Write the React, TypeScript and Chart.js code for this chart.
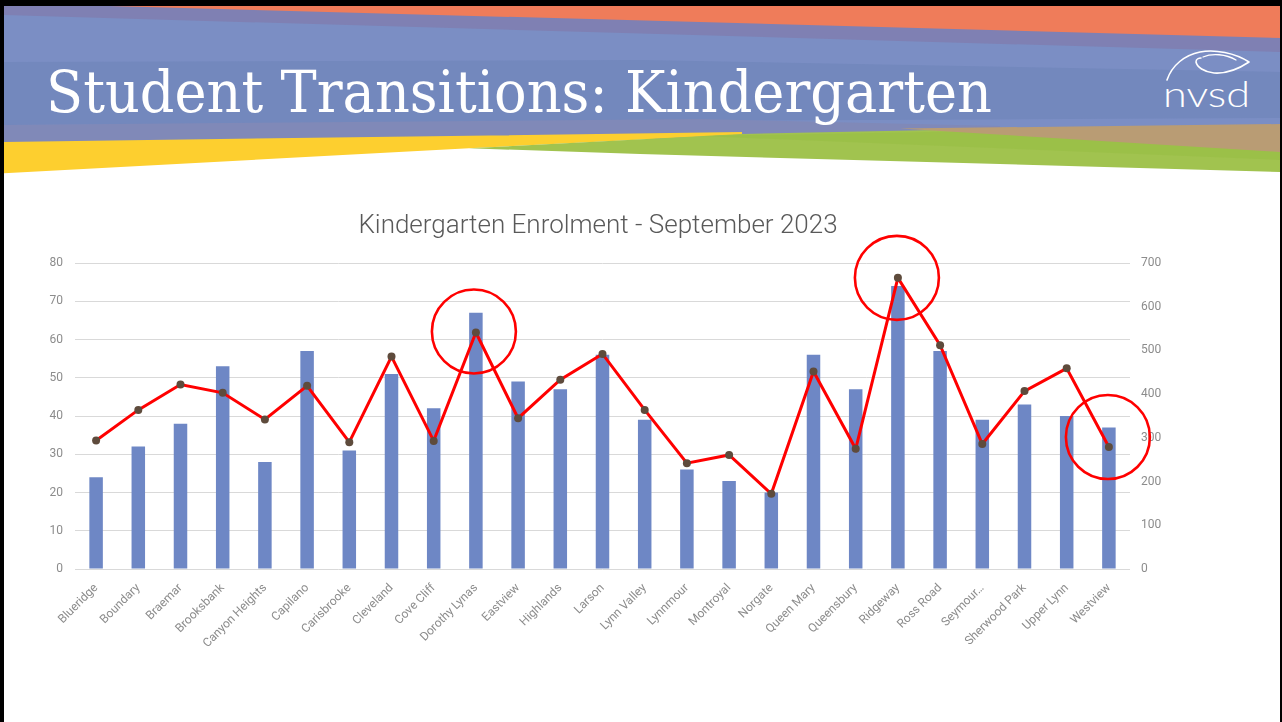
import React, { useEffect, useRef } from "react";
import { Chart, registerables } from "chart.js";

Chart.register(...registerables);

// ---- Data ----
const schools = [
  "Blueridge", "Boundary", "Braemar", "Brooksbank", "Canyon Heights", "Capilano",
  "Carisbrooke", "Cleveland", "Cove Cliff", "Dorothy Lynas", "Eastview", "Highlands",
  "Larson", "Lynn Valley", "Lynnmour", "Montroyal", "Norgate", "Queen Mary",
  "Queensbury", "Ridgeway", "Ross Road", "Seymour…", "Sherwood Park", "Upper Lynn",
  "Westview",
];
const kindergartenEnrolment = [
  24, 32, 38, 53, 28, 57, 31, 51, 42, 67, 49, 47, 56, 39, 26, 23, 20, 56, 47, 74, 57, 39, 43, 40, 37,
];
const totalEnrolment = [
  294, 364, 422, 403, 342, 419, 290, 486, 293, 541, 345, 433, 492, 364, 242, 261, 172, 452, 275, 666,
  512, 286, 407, 459, 279,
];
const leftAxisMax = 80;
const leftAxisStep = 10;
const rightAxisMax = 700;
const rightAxisStep = 100;
const circledSchools = ["Dorothy Lynas", "Ridgeway", "Westview"];
const circleOffsets = [
  { dx: -2, dy: -1 },
  { dx: -1, dy: 0 },
  { dx: -1, dy: -10 },
];

const chartTitle = "Kindergarten Enrolment - September 2023";
const slideTitle = "Student Transitions: Kindergarten";

const circlePlugin = {
  id: "redCircles",
  afterDraw(chart: any) {
    const { ctx, scales } = chart;
    ctx.save();
    ctx.strokeStyle = "#ff0000";
    ctx.lineWidth = 2.6;
    circledSchools.forEach((name, k) => {
      const i = schools.indexOf(name);
      const x = scales.x.getPixelForValue(i) + circleOffsets[k].dx;
      const y = scales.y1.getPixelForValue(totalEnrolment[i]) + circleOffsets[k].dy;
      ctx.beginPath();
      ctx.arc(x, y, 42, 0, Math.PI * 2);
      ctx.stroke();
    });
    ctx.restore();
  },
};

function EnrolmentChart() {
  const ref = useRef<HTMLCanvasElement>(null);
  useEffect(() => {
    if (!ref.current) return;
    const tickColor = "#8c8c8c";
    const chart = new Chart(ref.current, {
      type: "bar",
      data: {
        labels: schools,
        datasets: [
          {
            type: "line",
            label: "Total Enrolment",
            data: totalEnrolment,
            yAxisID: "y1",
            borderColor: "#ff0000",
            borderWidth: 3,
            pointRadius: 4,
            pointBackgroundColor: "#5e4b3c",
            pointBorderColor: "#5e4b3c",
            pointBorderWidth: 0,
            tension: 0,
            order: 0,
          } as any,
          {
            type: "bar",
            label: "Kindergarten",
            data: kindergartenEnrolment,
            yAxisID: "y",
            backgroundColor: "#6e87c5",
            barPercentage: 0.32,
            categoryPercentage: 1,
            order: 1,
          } as any,
        ],
      },
      options: {
        responsive: false,
        animation: false,
        layout: { padding: 0 },
        plugins: {
          legend: { display: false },
          tooltip: { enabled: false },
          title: {
            display: true,
            text: chartTitle,
            color: "#595959",
            font: { family: "Roboto", size: 26, weight: 300 as any },
            padding: { top: 16, bottom: 20.8 },
          },
        },
        scales: {
          x: {
            type: "category",
            offset: true,
            grid: { display: false },
            border: { display: false },
            ticks: {
              autoSkip: false,
              minRotation: 45,
              maxRotation: 45,
              color: tickColor,
              padding: 4,
              font: { family: "Roboto", size: 12 },
            },
            afterFit(scale: any) {
              scale.height = 100;
            },
          },
          y: {
            position: "left",
            min: 0,
            max: leftAxisMax,
            grid: { color: "#d9d9d9", lineWidth: 1, drawTicks: false },
            border: { display: false },
            ticks: {
              stepSize: leftAxisStep,
              color: tickColor,
              padding: 12,
              font: { family: "Roboto", size: 12 },
            },
            afterFit(scale: any) {
              scale.width = 45;
            },
          },
          y1: {
            position: "right",
            min: 0,
            max: rightAxisMax,
            grid: { display: false, drawTicks: false },
            border: { display: false },
            ticks: {
              stepSize: rightAxisStep,
              color: tickColor,
              padding: 11,
              font: { family: "Roboto", size: 12 },
            },
            afterFit(scale: any) {
              scale.width = 36;
            },
          },
        },
      },
      plugins: [circlePlugin],
    });
    return () => chart.destroy();
  }, []);
  return (
    <canvas
      ref={ref}
      width={1136}
      height={474}
      style={{ position: "absolute", left: 30, top: 195, width: 1136, height: 474 }}
    />
  );
}

function Banner() {
  return (
    <svg
      width={1282}
      height={180}
      style={{ position: "absolute", left: 0, top: 0 }}
      viewBox="0 0 1282 180"
    >
      <defs>
        <clipPath id="slideClip">
          <rect x={4} y={6} width={1276} height={174} />
        </clipPath>
      </defs>
      <g clipPath="url(#slideClip)">
        <polygon points="0,6 1282,6 1282,132 0,146" fill="#7b8ec4" />
        <polygon points="0,62 640,60 1282,72 1282,118 640,121 0,125" fill="#7388bd" />
        <polygon points="0,125 700,119 1000,126 1000,135 0,146" fill="#8089b8" />
        <polygon points="0,6 1282,6 1282,52 0,15" fill="#7f80b3" />
        <polygon points="110,6 1282,6 1282,38" fill="#ef7c5a" />
        <polygon points="0,142 742,132 742,134.5 469,148.3 0,173.5" fill="#fdcf2f" />
        <polygon points="469,148.3 742,134 984,129 1282,150 1282,172 640,154" fill="#a1c34f" />
        <polygon points="700,136 984,131 1282,152 1282,160" fill="#97be44" opacity="0.6" />
        <polygon points="900,128.5 1282,124 1282,152" fill="#b99c74" />
        <text
          x={46}
          y={112}
          fill="#ffffff"
          fontFamily="'DejaVu Serif', serif"
          fontSize={58}
          textLength={946}
          lengthAdjust="spacingAndGlyphs"
        >
          {slideTitle}
        </text>
        <path
          d="M1167,80 C1172,65 1185,55 1200,52 C1215,49 1235,53 1249,62 C1240,68 1228,74 1214,73 C1204,72 1197,67 1196,62 C1196,59 1199,58 1201,58"
          fill="none"
          stroke="#ffffff"
          strokeWidth={1.6}
          strokeLinecap="round"
          strokeLinejoin="round"
        />
        <path
          d="M1203,57 C1212,53 1226,54 1236,60"
          fill="none"
          stroke="#ffffff"
          strokeWidth={1.3}
          strokeLinecap="round"
        />
        <text
          x={1163}
          y={107}
          fill="#ffffff"
          fontFamily="Lato, 'Open Sans', sans-serif"
          fontWeight={300}
          fontSize={36}
          textLength={87}
          lengthAdjust="spacingAndGlyphs"
        >
          nvsd
        </text>
      </g>
    </svg>
  );
}

export default function App() {
  return (
    <div
      style={{
        position: "absolute",
        left: 0,
        top: 0,
        width: 1282,
        height: 722,
        background: "#000000",
        overflow: "hidden",
      }}
    >
      <div
        style={{
          position: "absolute",
          left: 4,
          top: 6,
          width: 1276,
          height: 716,
          background: "#ffffff",
        }}
      />
      <Banner />
      <EnrolmentChart />
    </div>
  );
}
